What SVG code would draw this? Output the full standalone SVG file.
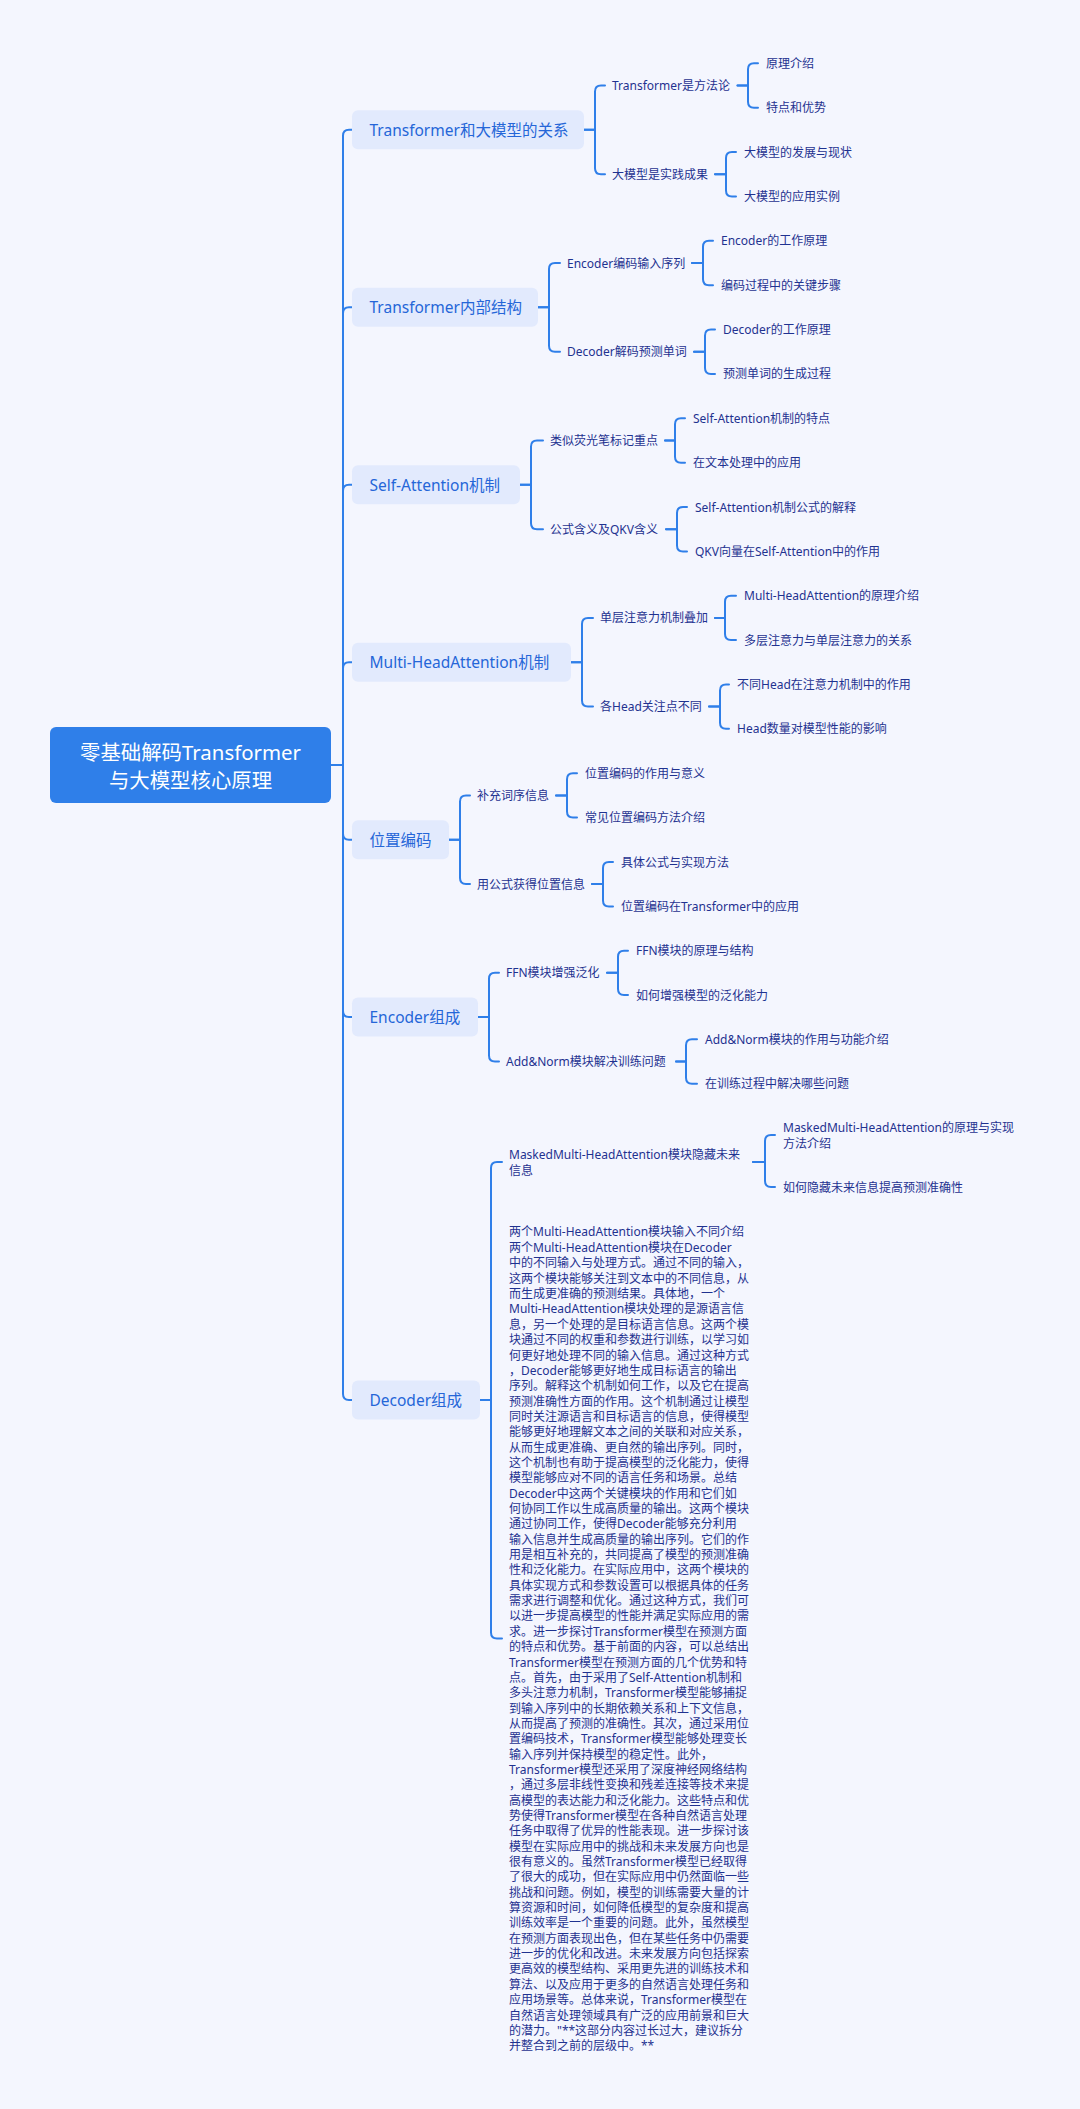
<svg xmlns="http://www.w3.org/2000/svg" width="1080" height="2109" viewBox="0 0 1080 2109">
<style>
text{font-family:"Noto Sans","Noto Sans CJK SC",sans-serif;dominant-baseline:central}
.bg{fill:#f4f6fe}
.root rect{fill:#2f7fe9}
.root text{fill:#ffffff;font-size:20.4px;text-anchor:middle}
.l1 rect{fill:#e2eafd}
.l1 text{fill:#2566d8;font-size:15.5px}
.n text{fill:#1f3290;font-size:12px}
#connectors path{fill:none;stroke:#2f7fe9;stroke-width:2;stroke-linecap:round}
</style>
<rect class="bg" x="0" y="0" width="1080" height="2109"/>
<g id="connectors">
<path d="M331,765 H343 V135.85 Q343,129.85 349,129.85 H352"/>
<path d="M331,765 H343 V313.3 Q343,307.3 349,307.3 H352"/>
<path d="M331,765 H343 V490.8 Q343,484.8 349,484.8 H352"/>
<path d="M331,765 H343 V668.2 Q343,662.2 349,662.2 H352"/>
<path d="M331,765 H343 V833.7 Q343,839.7 349,839.7 H352"/>
<path d="M331,765 H343 V1011.1 Q343,1017.1 349,1017.1 H352"/>
<path d="M331,765 H343 V1394 Q343,1400 349,1400 H352"/>
<path d="M584,129.85 H595 V91.5 Q595,85.5 601,85.5 H605"/>
<path d="M584,129.85 H595 V168.2 Q595,174.2 601,174.2 H605"/>
<path d="M538,307.3 H549 V269 Q549,263 555,263 H560"/>
<path d="M538,307.3 H549 V345.7 Q549,351.7 555,351.7 H560"/>
<path d="M520,484.8 H531 V446.4 Q531,440.4 537,440.4 H543"/>
<path d="M520,484.8 H531 V523.2 Q531,529.2 537,529.2 H543"/>
<path d="M571,662.2 H582 V623.9 Q582,617.9 588,617.9 H593"/>
<path d="M571,662.2 H582 V700.6 Q582,706.6 588,706.6 H593"/>
<path d="M449,839.7 H460 V801.4 Q460,795.4 466,795.4 H470"/>
<path d="M449,839.7 H460 V878.1 Q460,884.1 466,884.1 H470"/>
<path d="M478,1017.1 H489 V978.8 Q489,972.8 495,972.8 H499"/>
<path d="M478,1017.1 H489 V1055.5 Q489,1061.5 495,1061.5 H499"/>
<path d="M480,1400 H491 V1167.9 Q491,1161.9 497,1161.9 H502"/>
<path d="M480,1400 H491 V1632.4 Q491,1638.4 497,1638.4 H502"/>
<path d="M737.5,85.5 H748 V69.3 Q748,63.3 754,63.3 H758"/>
<path d="M737.5,85.5 H748 V101.7 Q748,107.7 754,107.7 H758"/>
<path d="M715,174.2 H726 V158 Q726,152 732,152 H736"/>
<path d="M715,174.2 H726 V190.4 Q726,196.4 732,196.4 H736"/>
<path d="M692,263 H703 V246.8 Q703,240.8 709,240.8 H713"/>
<path d="M692,263 H703 V279.2 Q703,285.2 709,285.2 H713"/>
<path d="M694,351.7 H705 V335.5 Q705,329.5 711,329.5 H715"/>
<path d="M694,351.7 H705 V367.9 Q705,373.9 711,373.9 H715"/>
<path d="M665,440.4 H675 V424.3 Q675,418.3 681,418.3 H685"/>
<path d="M665,440.4 H675 V456.7 Q675,462.7 681,462.7 H685"/>
<path d="M666,529.2 H677 V513 Q677,507 683,507 H687"/>
<path d="M666,529.2 H677 V545.4 Q677,551.4 683,551.4 H687"/>
<path d="M715,617.9 H725 V601.7 Q725,595.7 731,595.7 H736"/>
<path d="M715,617.9 H725 V634.1 Q725,640.1 731,640.1 H736"/>
<path d="M709,706.6 H720 V690.5 Q720,684.5 726,684.5 H729"/>
<path d="M709,706.6 H720 V722.8 Q720,728.8 726,728.8 H729"/>
<path d="M556,795.4 H567 V779.2 Q567,773.2 573,773.2 H577"/>
<path d="M556,795.4 H567 V811.6 Q567,817.6 573,817.6 H577"/>
<path d="M592,884.1 H603 V868 Q603,862 609,862 H613"/>
<path d="M592,884.1 H603 V900.4 Q603,906.4 609,906.4 H613"/>
<path d="M607,972.8 H618 V956.7 Q618,950.7 624,950.7 H628"/>
<path d="M607,972.8 H618 V989.1 Q618,995.1 624,995.1 H628"/>
<path d="M676,1061.5 H686 V1045.3 Q686,1039.3 692,1039.3 H697"/>
<path d="M676,1061.5 H686 V1077.7 Q686,1083.7 692,1083.7 H697"/>
<path d="M753,1161.9 H765 V1141 Q765,1135 771,1135 H775"/>
<path d="M753,1161.9 H765 V1181 Q765,1187 771,1187 H775"/>
</g>
<g id="root" class="root">
<rect x="50" y="727" width="281" height="76" rx="6"/>
<text x="190.5" y="751.5">零基础解码Transformer</text>
<text x="190.5" y="779.5">与大模型核心原理</text>
</g>
<g id="n1" class="l1"><rect x="352" y="110.35" width="232" height="39" rx="6"/><text x="369.5" y="129.85">Transformer和大模型的关系</text></g>
<g id="n2" class="l1"><rect x="352" y="287.8" width="186" height="39" rx="6"/><text x="369.5" y="307.3">Transformer内部结构</text></g>
<g id="n3" class="l1"><rect x="352" y="465.3" width="168" height="39" rx="6"/><text x="369.5" y="484.8">Self-Attention机制</text></g>
<g id="n4" class="l1"><rect x="352" y="642.7" width="219" height="39" rx="6"/><text x="369.5" y="662.2">Multi-HeadAttention机制</text></g>
<g id="n5" class="l1"><rect x="352" y="820.2" width="97" height="39" rx="6"/><text x="369.5" y="839.7">位置编码</text></g>
<g id="n6" class="l1"><rect x="352" y="997.6" width="126" height="39" rx="6"/><text x="369.5" y="1017.1">Encoder组成</text></g>
<g id="n7" class="l1"><rect x="352" y="1380.5" width="128" height="39" rx="6"/><text x="369.5" y="1400">Decoder组成</text></g>

<g id="n1a" class="n"><text x="612" y="85.5">Transformer是方法论</text></g>
<g id="n1a1" class="n"><text x="766" y="63.3">原理介绍</text></g>
<g id="n1a2" class="n"><text x="766" y="107.7">特点和优势</text></g>
<g id="n1b" class="n"><text x="612" y="174.2">大模型是实践成果</text></g>
<g id="n1b1" class="n"><text x="744" y="152">大模型的发展与现状</text></g>
<g id="n1b2" class="n"><text x="744" y="196.4">大模型的应用实例</text></g>

<g id="n2a" class="n"><text x="567" y="263">Encoder编码输入序列</text></g>
<g id="n2a1" class="n"><text x="721" y="240.8">Encoder的工作原理</text></g>
<g id="n2a2" class="n"><text x="721" y="285.2">编码过程中的关键步骤</text></g>
<g id="n2b" class="n"><text x="567" y="351.7">Decoder解码预测单词</text></g>
<g id="n2b1" class="n"><text x="723" y="329.5">Decoder的工作原理</text></g>
<g id="n2b2" class="n"><text x="723" y="373.9">预测单词的生成过程</text></g>

<g id="n3a" class="n"><text x="550" y="440.4">类似荧光笔标记重点</text></g>
<g id="n3a1" class="n"><text x="693" y="418.3">Self-Attention机制的特点</text></g>
<g id="n3a2" class="n"><text x="693" y="462.7">在文本处理中的应用</text></g>
<g id="n3b" class="n"><text x="550" y="529.2">公式含义及QKV含义</text></g>
<g id="n3b1" class="n"><text x="695" y="507">Self-Attention机制公式的解释</text></g>
<g id="n3b2" class="n"><text x="695" y="551.4">QKV向量在Self-Attention中的作用</text></g>

<g id="n4a" class="n"><text x="600" y="617.9">单层注意力机制叠加</text></g>
<g id="n4a1" class="n"><text x="744" y="595.7">Multi-HeadAttention的原理介绍</text></g>
<g id="n4a2" class="n"><text x="744" y="640.1">多层注意力与单层注意力的关系</text></g>
<g id="n4b" class="n"><text x="600" y="706.6">各Head关注点不同</text></g>
<g id="n4b1" class="n"><text x="737" y="684.5">不同Head在注意力机制中的作用</text></g>
<g id="n4b2" class="n"><text x="737" y="728.8">Head数量对模型性能的影响</text></g>

<g id="n5a" class="n"><text x="477" y="795.4">补充词序信息</text></g>
<g id="n5a1" class="n"><text x="585" y="773.2">位置编码的作用与意义</text></g>
<g id="n5a2" class="n"><text x="585" y="817.6">常见位置编码方法介绍</text></g>
<g id="n5b" class="n"><text x="477" y="884.1">用公式获得位置信息</text></g>
<g id="n5b1" class="n"><text x="621" y="862">具体公式与实现方法</text></g>
<g id="n5b2" class="n"><text x="621" y="906.4">位置编码在Transformer中的应用</text></g>

<g id="n6a" class="n"><text x="506" y="972.8">FFN模块增强泛化</text></g>
<g id="n6a1" class="n"><text x="636" y="950.7">FFN模块的原理与结构</text></g>
<g id="n6a2" class="n"><text x="636" y="995.1">如何增强模型的泛化能力</text></g>
<g id="n6b" class="n"><text x="506" y="1061.5">Add&amp;Norm模块解决训练问题</text></g>
<g id="n6b1" class="n"><text x="705" y="1039.3">Add&amp;Norm模块的作用与功能介绍</text></g>
<g id="n6b2" class="n"><text x="705" y="1083.7">在训练过程中解决哪些问题</text></g>

<g id="n7a" class="n"><text x="509" y="1154.2">MaskedMulti-HeadAttention模块隐藏未来<tspan x="509" dy="15.4">信息</tspan></text></g>
<g id="n7a1" class="n"><text x="783" y="1127.3">MaskedMulti-HeadAttention的原理与实现<tspan x="783" dy="15.4">方法介绍</tspan></text></g>
<g id="n7a2" class="n"><text x="783" y="1187">如何隐藏未来信息提高预测准确性</text></g>
<g id="n7b" class="n"><text x="509" y="1231.7">两个Multi-HeadAttention模块输入不同介绍<tspan x="509" dy="15.35">两个Multi-HeadAttention模块在Decoder</tspan><tspan x="509" dy="15.35">中的不同输入与处理方式。通过不同的输入，</tspan><tspan x="509" dy="15.35">这两个模块能够关注到文本中的不同信息，从</tspan><tspan x="509" dy="15.35">而生成更准确的预测结果。具体地，一个</tspan><tspan x="509" dy="15.35">Multi-HeadAttention模块处理的是源语言信</tspan><tspan x="509" dy="15.35">息，另一个处理的是目标语言信息。这两个模</tspan><tspan x="509" dy="15.35">块通过不同的权重和参数进行训练，以学习如</tspan><tspan x="509" dy="15.35">何更好地处理不同的输入信息。通过这种方式</tspan><tspan x="509" dy="15.35">，Decoder能够更好地生成目标语言的输出</tspan><tspan x="509" dy="15.35">序列。解释这个机制如何工作，以及它在提高</tspan><tspan x="509" dy="15.35">预测准确性方面的作用。这个机制通过让模型</tspan><tspan x="509" dy="15.35">同时关注源语言和目标语言的信息，使得模型</tspan><tspan x="509" dy="15.35">能够更好地理解文本之间的关联和对应关系，</tspan><tspan x="509" dy="15.35">从而生成更准确、更自然的输出序列。同时，</tspan><tspan x="509" dy="15.35">这个机制也有助于提高模型的泛化能力，使得</tspan><tspan x="509" dy="15.35">模型能够应对不同的语言任务和场景。总结</tspan><tspan x="509" dy="15.35">Decoder中这两个关键模块的作用和它们如</tspan><tspan x="509" dy="15.35">何协同工作以生成高质量的输出。这两个模块</tspan><tspan x="509" dy="15.35">通过协同工作，使得Decoder能够充分利用</tspan><tspan x="509" dy="15.35">输入信息并生成高质量的输出序列。它们的作</tspan><tspan x="509" dy="15.35">用是相互补充的，共同提高了模型的预测准确</tspan><tspan x="509" dy="15.35">性和泛化能力。在实际应用中，这两个模块的</tspan><tspan x="509" dy="15.35">具体实现方式和参数设置可以根据具体的任务</tspan><tspan x="509" dy="15.35">需求进行调整和优化。通过这种方式，我们可</tspan><tspan x="509" dy="15.35">以进一步提高模型的性能并满足实际应用的需</tspan><tspan x="509" dy="15.35">求。进一步探讨Transformer模型在预测方面</tspan><tspan x="509" dy="15.35">的特点和优势。基于前面的内容，可以总结出</tspan><tspan x="509" dy="15.35">Transformer模型在预测方面的几个优势和特</tspan><tspan x="509" dy="15.35">点。首先，由于采用了Self-Attention机制和</tspan><tspan x="509" dy="15.35">多头注意力机制，Transformer模型能够捕捉</tspan><tspan x="509" dy="15.35">到输入序列中的长期依赖关系和上下文信息，</tspan><tspan x="509" dy="15.35">从而提高了预测的准确性。其次，通过采用位</tspan><tspan x="509" dy="15.35">置编码技术，Transformer模型能够处理变长</tspan><tspan x="509" dy="15.35">输入序列并保持模型的稳定性。此外，</tspan><tspan x="509" dy="15.35">Transformer模型还采用了深度神经网络结构</tspan><tspan x="509" dy="15.35">，通过多层非线性变换和残差连接等技术来提</tspan><tspan x="509" dy="15.35">高模型的表达能力和泛化能力。这些特点和优</tspan><tspan x="509" dy="15.35">势使得Transformer模型在各种自然语言处理</tspan><tspan x="509" dy="15.35">任务中取得了优异的性能表现。进一步探讨该</tspan><tspan x="509" dy="15.35">模型在实际应用中的挑战和未来发展方向也是</tspan><tspan x="509" dy="15.35">很有意义的。虽然Transformer模型已经取得</tspan><tspan x="509" dy="15.35">了很大的成功，但在实际应用中仍然面临一些</tspan><tspan x="509" dy="15.35">挑战和问题。例如，模型的训练需要大量的计</tspan><tspan x="509" dy="15.35">算资源和时间，如何降低模型的复杂度和提高</tspan><tspan x="509" dy="15.35">训练效率是一个重要的问题。此外，虽然模型</tspan><tspan x="509" dy="15.35">在预测方面表现出色，但在某些任务中仍需要</tspan><tspan x="509" dy="15.35">进一步的优化和改进。未来发展方向包括探索</tspan><tspan x="509" dy="15.35">更高效的模型结构、采用更先进的训练技术和</tspan><tspan x="509" dy="15.35">算法、以及应用于更多的自然语言处理任务和</tspan><tspan x="509" dy="15.35">应用场景等。总体来说，Transformer模型在</tspan><tspan x="509" dy="15.35">自然语言处理领域具有广泛的应用前景和巨大</tspan><tspan x="509" dy="15.35">的潜力。"**这部分内容过长过大，建议拆分</tspan><tspan x="509" dy="15.35">并整合到之前的层级中。**</tspan></text></g>
</svg>
